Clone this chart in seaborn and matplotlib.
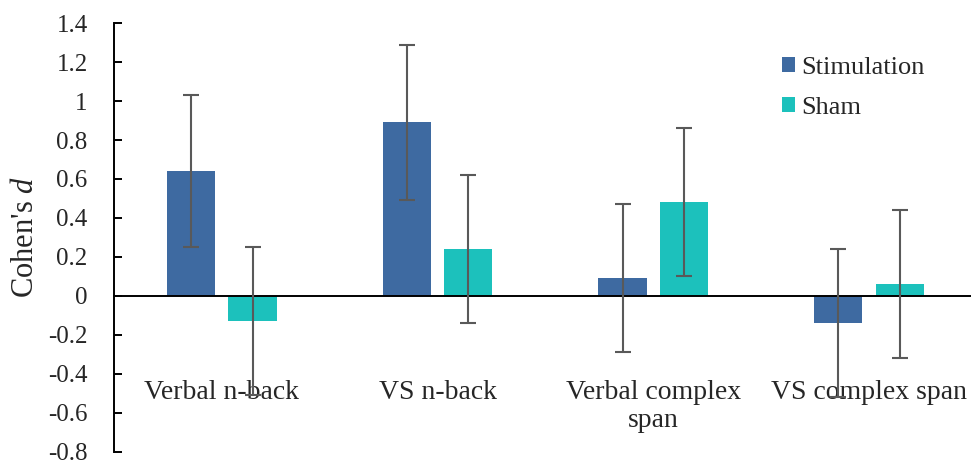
import matplotlib
matplotlib.use("Agg")
import matplotlib.pyplot as plt
import numpy as np
import pandas as pd
import seaborn as sns

# Effect sizes per task
categories = ["Verbal n-back", "VS n-back", "Verbal complex\nspan", "VS complex span"]
groups = ["Stimulation", "Sham"]
stim_d = [0.64, 0.89, 0.09, -0.14]
sham_d = [-0.13, 0.24, 0.48, 0.06]
stim_ci = [0.39, 0.40, 0.38, 0.38]
sham_ci = [0.38, 0.38, 0.38, 0.38]
yticks = [-0.8, -0.6, -0.4, -0.2, 0, 0.2, 0.4, 0.6, 0.8, 1, 1.2, 1.4]

colors = {"Stimulation": "#3E6AA1", "Sham": "#1CC1BC"}

sns.set_style("white")
plt.rcParams["font.family"] = ["Liberation Serif", "DejaVu Serif"]
plt.rcParams["mathtext.fontset"] = "custom"
plt.rcParams["mathtext.it"] = "Liberation Serif:italic"
plt.rcParams["mathtext.rm"] = "Liberation Serif"

df = pd.DataFrame({
    "task": categories * 2,
    "group": [groups[0]] * len(categories) + [groups[1]] * len(categories),
    "d": stim_d + sham_d,
})

fig = plt.figure(figsize=(9.71, 4.67), dpi=100)
ax = fig.add_axes([114 / 971, 15.5 / 467, 1 - 114 / 971, 428.3 / 467])

sns.barplot(data=df, x="task", y="d", hue="group", order=categories,
            hue_order=groups, palette=colors, saturation=1, width=0.57, gap=0.214,
            linewidth=0, errorbar=None, ax=ax, zorder=2)

# Confidence intervals on each bar
for container, errs in zip(ax.containers, [stim_ci, sham_ci]):
    for bar, val, e in zip(container, container.datavalues, errs):
        x = bar.get_x() + bar.get_width() / 2
        ax.errorbar(x, val, yerr=e, fmt="none", ecolor="#595959",
                    elinewidth=1.5, capsize=6, capthick=1.5, zorder=4)

ax.set_xlim(-0.5, 3.473)
ax.set_ylim(-0.8, 1.4)
ax.set_yticks(yticks)
ax.set_yticklabels([f"{t:g}" for t in yticks])

for s in ["top", "right"]:
    ax.spines[s].set_visible(False)
ax.spines["left"].set_color("black")
ax.spines["left"].set_linewidth(1.4)
ax.spines["bottom"].set_position(("data", 0))
ax.spines["bottom"].set_color("black")
ax.spines["bottom"].set_linewidth(1.4)
ax.spines["bottom"].set_zorder(3)

ax.tick_params(axis="y", direction="in", length=6, width=1.4, color="black",
               labelsize=18, pad=19, left=True)
ax.tick_params(axis="x", length=0, labelsize=20, pad=61)
for lbl in ax.get_xticklabels():
    lbl.set_linespacing(1.15)

ax.set_xlabel("")
ax.set_ylabel("Cohen's $\\it{d}$", fontsize=22, labelpad=6)

handles, labels = ax.get_legend_handles_labels()
ax.legend(handles, labels, loc="upper left", bbox_to_anchor=(782 / 971, 1 - 57 / 467),
          bbox_transform=fig.transFigure, frameon=False, fontsize=19,
          handlelength=0.49, handleheight=0.49, handletextpad=0.25,
          labelspacing=0.67, borderpad=0, borderaxespad=0)

fig.savefig("out.png", dpi=100)
